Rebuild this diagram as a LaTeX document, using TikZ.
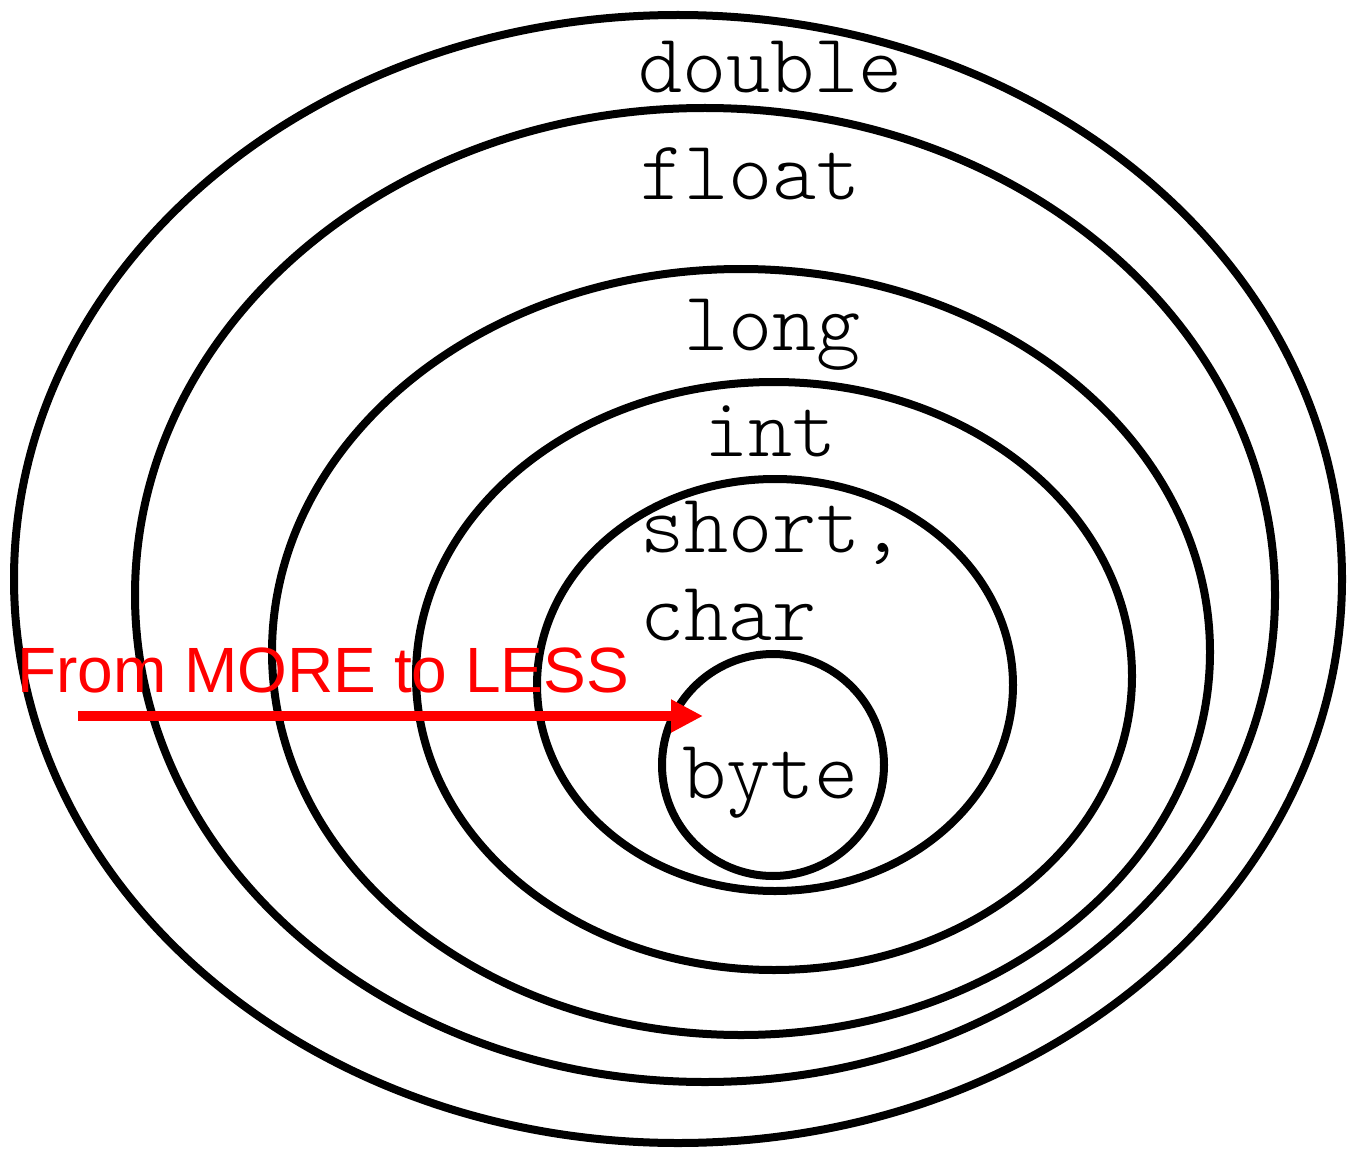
\documentclass[tikz,border=0pt]{standalone}
\usepackage{fontspec}
\setmainfont{Liberation Sans}
\newfontfamily\lightmono{lmmonolt10-regular.otf}
\usetikzlibrary{arrows.meta}
\tikzset{
  ring/.style={draw=black, line width=8pt},
  typelabel/.style={font=\lightmono\fontsize{84}{84}\selectfont, anchor=base west, inner sep=0pt},
  redlabel/.style={font=\fontsize{64}{64}\selectfont, text=red, anchor=base west, inner sep=0pt},
  redarrow/.style={draw=red, line width=10pt, -{Triangle[length=32pt,width=31pt]}}
}
\begin{document}
\begin{tikzpicture}[x=1pt,y=-1pt]
\useasboundingbox[fill=white] (0,0) rectangle (1349,1150);
\draw[ring] (678,579) ellipse [x radius=664, y radius=564];
\draw[ring] (705,595) ellipse [x radius=570, y radius=487];
\draw[ring] (741,652) ellipse [x radius=469, y radius=383];
\draw[ring] (774,676) ellipse [x radius=358, y radius=294];
\draw[ring] (775,685) ellipse [x radius=238, y radius=206];
\draw[ring] (773,765) ellipse [x radius=111, y radius=111];
\node[typelabel] (double) at (638,93) {double};
\node[typelabel] (float) at (640,200) {float};
\node[typelabel] (long) at (684,350) {long};
\node[typelabel] (int) at (704,456) {int};
\node[typelabel] (short) at (640,552) {short,};
\node[typelabel] (char) at (640,640) {char};
\node[typelabel] (byte) at (682,798) {byte};
\node[redlabel] (dir) at (17,692) {From MORE to LESS};
\coordinate (as) at (78,716);
\coordinate (ae) at (703,716);
\draw[redarrow] (as) -- (ae);
\end{tikzpicture}
\end{document}
